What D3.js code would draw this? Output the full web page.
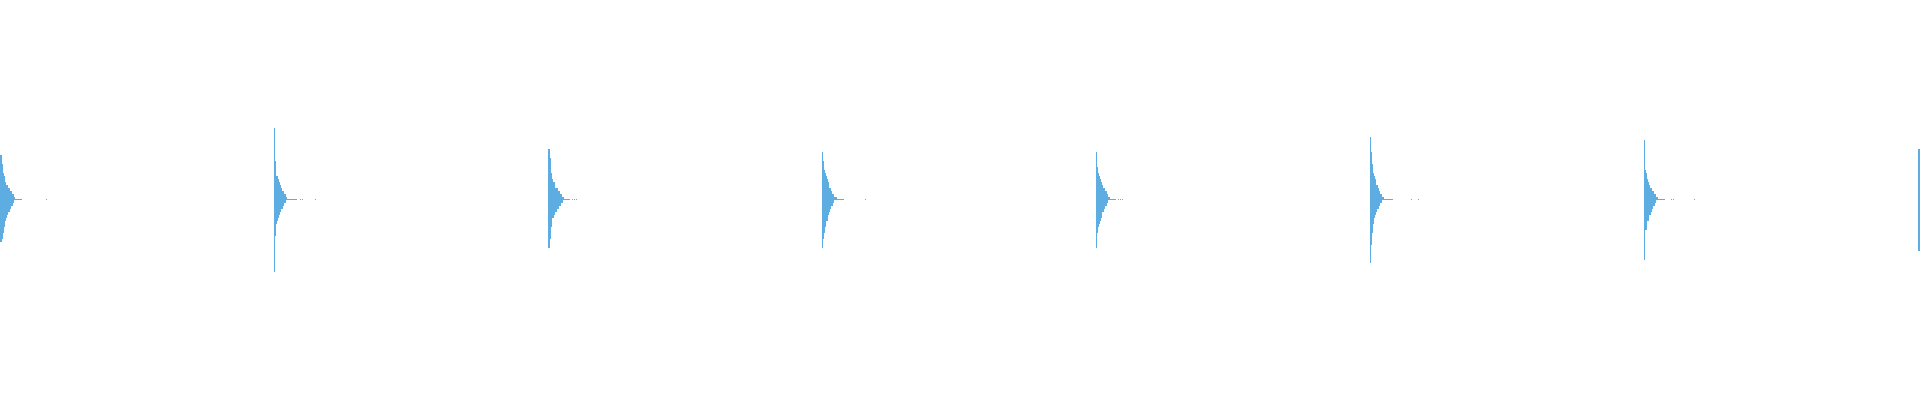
<!DOCTYPE html>
<html>
<head>
<meta charset="utf-8">
<script src="https://cdn.jsdelivr.net/npm/d3@7"></script>
<style>
  html, body { margin: 0; padding: 0; background: #ffffff; }
  svg { display: block; }
</style>
</head>
<body>
<svg id="chart" width="1920" height="400"></svg>
<script>
// ---- data (counts per bin) ----
const groups = ["G1", "G2", "G3", "G4", "G5", "G6", "G7", "G8"];

// bin counts going outward from the centre (0) upward
const upperCounts = [
  [15,14,12,10,8,6,5,5,4,3,3,3,2,2,2],
  [13,12,10,8,7,6,5,4,2,2,2,2,2,1,1,1,1,1,1,1,1,1,1,1],
  [16,14,12,10,7,7,5,4,4,3,3,3,3,3,2,2,2],
  [15,12,10,9,7,7,6,5,4,3,2,2,2,1,1,1],
  [14,12,11,9,7,6,5,4,3,2,2,1,1,1,1,1],
  [14,12,10,9,8,6,6,5,4,3,3,3,2,2,2,2,1,1,1,1,1],
  [14,12,10,8,6,5,4,3,3,2,1,1,1,1,1,1,1,1,1,1],
  [12,10,9,7,6,5,4,3,2,2,2,2,2,2,2,2,2]
];
// bin counts going outward from the centre (0) downward
const lowerCounts = [
  [14,13,11,10,8,7,6,5,5,4,4,3,3,2],
  [12,10,9,7,6,5,4,3,2,2,2,2,1,1,1,1,1,1,1,1,1,1,1,1],
  [15,13,11,9,7,6,4,4,4,3,3,3,3,2,2,2],
  [12,11,9,8,7,6,6,4,4,3,3,2,2,1,1,1],
  [12,11,9,8,6,6,5,4,3,2,2,1,1,1,1,1],
  [12,10,9,7,6,5,4,4,3,3,3,2,2,2,2,1,1,1,1,1,1],
  [12,11,9,8,7,5,5,3,3,3,1,1,1,1,1,1,1,1,1,1],
  [12,11,9,7,6,5,4,3,2,2,2,2,2,2,2,2,2]
];
// the single tall central bin
const peakCounts = [22, 23, 22, 22, 20, 23, 21, 20];
// isolated far counts on the central row
const outlierCounts = [
  [46],
  [26, 28, 41],
  [24, 26, 28],
  [43],
  [22, 24, 26],
  [41, 48],
  [27, 29, 50],
  []
];

const binSize = 0.06;
const peakSize = 0.02;

// ---- drawing ----
const W = 1920, H = 400;
const color = "#5dade2";
const svg = d3.select("#chart");

const x = d3.scalePoint().domain(groups).range([0, 1917.5]);
const y = d3.scaleLinear().domain([-4, 4]).range([H, 0]);
const w = d3.scaleLinear().domain([0, 274]).range([0, 274]);

const rows = [];
groups.forEach((g, gi) => {
  upperCounts[gi].forEach((c, i) => rows.push({g, lo: i * binSize, hi: (i + 1) * binSize, c}));
  lowerCounts[gi].forEach((c, i) => rows.push({g, lo: -(i + 1) * binSize, hi: -i * binSize, c}));
  rows.push({g, lo: 0, hi: peakSize, c: peakCounts[gi]});
});

const dots = [];
groups.forEach((g, gi) => {
  outlierCounts[gi].forEach(c => dots.push({g, c}));
});

const panel = svg.append("g").attr("shape-rendering", "crispEdges").attr("fill", color);

panel.selectAll("rect.bin")
  .data(rows)
  .join("rect")
  .attr("class", "bin")
  .attr("x", d => x(d.g))
  .attr("y", d => y(d.hi))
  .attr("width", d => w(d.c))
  .attr("height", d => y(d.lo) - y(d.hi));

panel.selectAll("rect.out")
  .data(dots)
  .join("rect")
  .attr("class", "out")
  .attr("x", d => x(d.g) + w(d.c))
  .attr("y", y(peakSize))
  .attr("width", w(1.2))
  .attr("height", y(0) - y(peakSize));
</script>
</body>
</html>
